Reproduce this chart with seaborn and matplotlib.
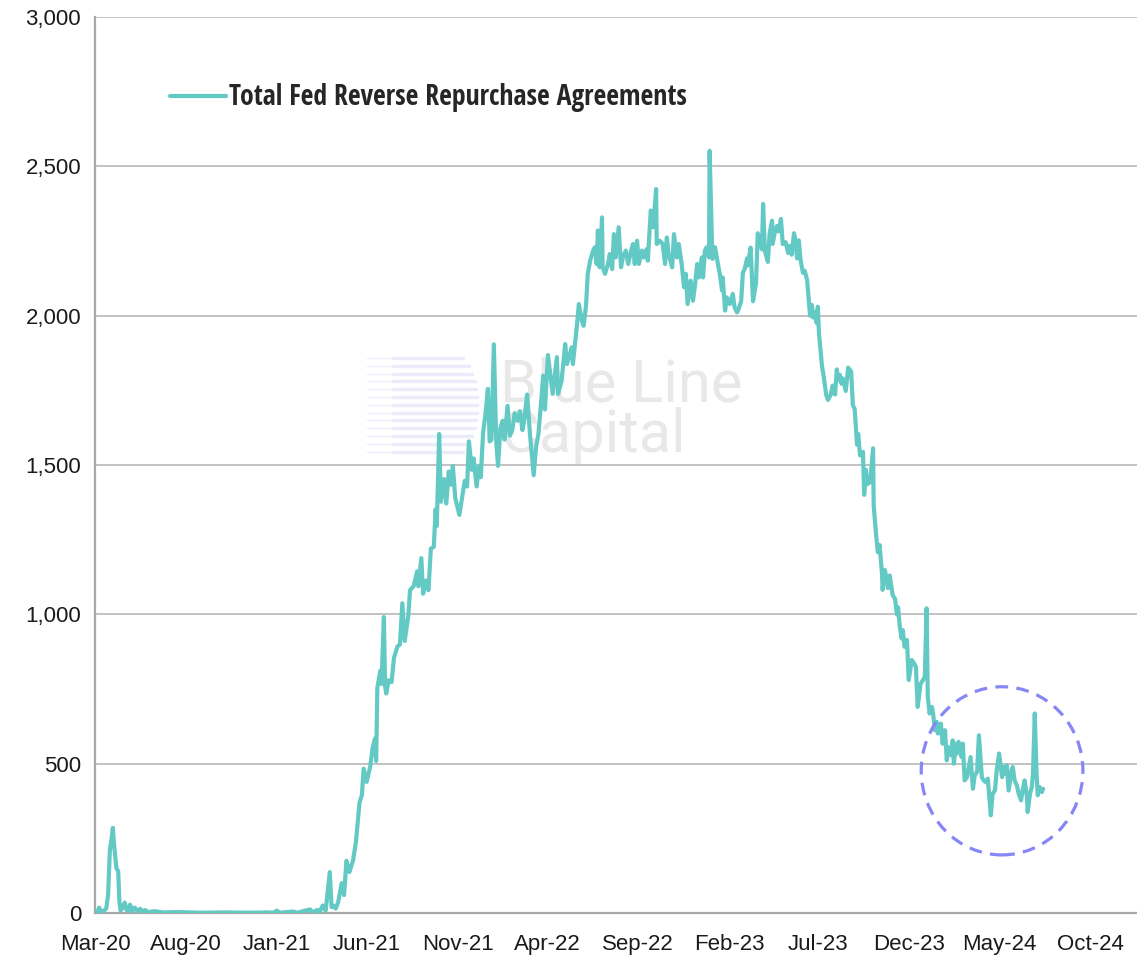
import matplotlib
matplotlib.use('Agg')
import matplotlib.pyplot as plt
import matplotlib.dates as mdates
from matplotlib.patches import Ellipse
from matplotlib.ticker import StrMethodFormatter
import seaborn as sns
import pandas as pd

# days counted from 1 Mar 2020, values in $bn
START = pd.Timestamp('2020-03-01')

days_2020 = [0, 4, 7, 10, 14, 19, 22, 25, 28, 30,
             32, 34, 36, 39, 41, 43, 47, 50, 53, 56,
             59, 63, 67, 72, 76, 81, 84, 90, 100, 115,
             140, 180, 220, 260, 290, 300, 306, 311, 333, 340,
             362, 366, 374, 378, 383, 388, 395, 398, 401, 405]
rrp_2020 = [2, 3, 18, 4, 6, 15, 60, 210, 250, 285,
            230, 190, 150, 140, 40, 8, 20, 35, 10, 8,
            28, 6, 18, 5, 14, 3, 10, 3, 6, 2,
            3, 1, 2, 1, 2, 1, 8, 1, 5, 1,
            12, 2, 10, 4, 25, 8, 137, 20, 24, 15]

days_2021 = [409, 415, 419, 423, 428, 434, 439, 445, 449, 452,
             457, 463, 467, 471, 473, 475, 480, 482, 486, 488,
             490, 494, 499, 503, 509, 513, 517, 521, 527, 530,
             536, 542, 544, 549, 552, 557, 561, 565, 570, 573,
             575, 579, 582, 587, 591, 595, 599, 602, 606, 613,
             618, 622, 626, 629, 634, 637, 642, 646, 649, 653,
             657, 661, 664, 667, 671, 675, 678, 682, 686, 689,
             694, 698, 702, 706, 711, 715, 719, 722, 727, 732,
             738, 742, 746, 750, 754, 757, 762]
rrp_2021 = [36, 100, 60, 175, 137, 175, 238, 370, 395, 483,
            439, 490, 553, 584, 509, 754, 811, 767, 991, 760,
            735, 779, 773, 855, 893, 899, 1037, 911, 993, 1081,
            1094, 1144, 1094, 1188, 1069, 1113, 1081, 1220, 1226, 1352,
            1296, 1604, 1377, 1453, 1371, 1478, 1434, 1497, 1390, 1333,
            1396, 1447, 1428, 1579, 1484, 1522, 1428, 1497, 1459, 1610,
            1673, 1755, 1579, 1585, 1904, 1579, 1497, 1623, 1648, 1585,
            1698, 1598, 1617, 1673, 1648, 1680, 1617, 1648, 1736, 1598,
            1466, 1560, 1604, 1698, 1799, 1686, 1868]

days_2022 = [770, 777, 779, 785, 791, 794, 799, 802, 804, 811,
             814, 819, 822, 826, 829, 833, 838, 841, 844, 846,
             849, 853, 854, 858, 863, 866, 870, 873, 876, 881,
             885, 888, 893, 897, 902, 905, 908, 912, 915, 920,
             923, 928, 930, 935, 939, 944, 945, 950, 955, 959,
             962, 965, 971, 974, 979, 982, 987, 991, 994, 997,
             1002, 1006, 1009, 1013, 1016, 1021, 1023, 1026, 1029, 1033,
             1034, 1038, 1039, 1043, 1046, 1051, 1055, 1056, 1060, 1063,
             1068, 1073, 1076, 1080]
rrp_2022 = [1738, 1861, 1738, 1782, 1905, 1838, 1872, 1894, 1838, 1972,
            2039, 1983, 1966, 2033, 2140, 2184, 2218, 2229, 2173, 2285,
            2162, 2329, 2162, 2140, 2173, 2206, 2156, 2273, 2195, 2296,
            2162, 2195, 2218, 2173, 2218, 2240, 2173, 2251, 2173, 2218,
            2195, 2223, 2184, 2352, 2296, 2424, 2240, 2251, 2240, 2173,
            2262, 2206, 2162, 2273, 2195, 2240, 2173, 2095, 2140, 2039,
            2117, 2050, 2095, 2173, 2128, 2195, 2128, 2218, 2229, 2195,
            2552, 2240, 2190, 2229, 2195, 2140, 2084, 2128, 2017, 2061,
            2039, 2073, 2028, 2011]

days_2023 = [1082, 1087, 1090, 1093, 1097, 1098, 1103, 1107, 1112, 1115,
             1119, 1122, 1124, 1127, 1132, 1135, 1139, 1140, 1144, 1147,
             1150, 1154, 1157, 1162, 1166, 1169, 1172, 1176, 1179, 1181,
             1184, 1187, 1191, 1194, 1198, 1199, 1203, 1206, 1208, 1211,
             1214, 1216, 1218, 1223, 1226, 1230, 1233, 1238, 1241, 1245,
             1248, 1250, 1253, 1256, 1258, 1263, 1267, 1272, 1275, 1278,
             1282, 1284, 1287, 1292, 1294, 1297, 1299, 1304, 1309, 1310,
             1314, 1317, 1320, 1324, 1325, 1329, 1334, 1337, 1342, 1346,
             1349, 1351, 1354]
rrp_2023 = [2018, 2048, 2144, 2156, 2192, 2168, 2228, 2048, 2108, 2276,
            2246, 2222, 2374, 2216, 2180, 2276, 2318, 2240, 2282, 2300,
            2282, 2324, 2240, 2246, 2210, 2234, 2204, 2276, 2246, 2192,
            2252, 2186, 2144, 2150, 2120, 2096, 2000, 2036, 1994, 2012,
            1976, 2030, 1940, 1832, 1796, 1736, 1718, 1736, 1766, 1736,
            1820, 1784, 1802, 1772, 1790, 1748, 1826, 1814, 1700, 1688,
            1568, 1604, 1532, 1544, 1400, 1484, 1436, 1442, 1556, 1364,
            1268, 1208, 1232, 1136, 1082, 1148, 1088, 1130, 1064, 1052,
            1000, 1024, 958]

days_2024 = [1357, 1359, 1362, 1366, 1369, 1374, 1378, 1381, 1384, 1389,
             1393, 1396, 1399, 1401, 1404, 1408, 1410, 1413, 1416, 1418,
             1423, 1426, 1430, 1433, 1435, 1440, 1443, 1445, 1448, 1450,
             1453, 1458, 1460, 1463, 1467, 1470, 1473, 1477, 1480, 1484,
             1487, 1492, 1495, 1499, 1502, 1507, 1510, 1514, 1517, 1521,
             1526, 1529, 1532, 1534, 1537, 1542, 1544, 1547, 1551, 1554,
             1558, 1561, 1564, 1568, 1569, 1573, 1576, 1578, 1581, 1584,
             1586, 1589, 1593, 1595]
rrp_2024 = [919, 947, 891, 914, 780, 847, 836, 824, 690, 768,
            780, 791, 1020, 724, 668, 690, 668, 612, 640, 601,
            634, 567, 612, 511, 556, 528, 578, 500, 567, 534,
            573, 522, 567, 444, 455, 489, 522, 416, 461, 472,
            595, 455, 444, 438, 450, 327, 399, 410, 478, 534,
            455, 489, 466, 494, 410, 478, 489, 444, 427, 399,
            377, 416, 444, 388, 338, 399, 422, 466, 668, 466,
            394, 422, 405, 416]

tick_dates = pd.date_range('2020-03-01', '2024-10-01', freq='5MS')
tick_labels = ['Mar-20', 'Aug-20', 'Jan-21', 'Jun-21', 'Nov-21', 'Apr-22',
               'Sep-22', 'Feb-23', 'Jul-23', 'Dec-23', 'May-24', 'Oct-24']
series_name = 'Total Fed Reverse Repurchase Agreements'

days = days_2020 + days_2021 + days_2022 + days_2023 + days_2024
rrp = rrp_2020 + rrp_2021 + rrp_2022 + rrp_2023 + rrp_2024
df = pd.DataFrame({'date': START + pd.to_timedelta(days, unit='D'), 'value': rrp})

LINE = '#63C9C4'
GREY = '#A8A8A8'

sns.set_style('white')
plt.rcParams['font.family'] = ['Liberation Sans', 'DejaVu Sans']

W, H = 1137, 963
fig = plt.figure(figsize=(W / 100, H / 100), dpi=100)
ax = fig.add_axes([95 / W, 1 - 913 / H, 1042 / W, 896 / H])

sns.lineplot(data=df, x='date', y='value', ax=ax, color=LINE, lw=3.0,
             estimator=None, sort=False, label=series_name, zorder=3)

ax.set_xlim(START, pd.Timestamp('2024-12-18'))
ax.set_ylim(0, 3000)
ax.set_yticks(range(0, 3001, 500))
ax.yaxis.set_major_formatter(StrMethodFormatter('{x:,.0f}'))
ax.set_xticks(tick_dates)
ax.set_xticklabels(tick_labels)
ax.set_xlabel('')
ax.set_ylabel('')

ax.yaxis.grid(True, color='#BDBDBD', lw=1.3)
ax.set_axisbelow(True)
for s in ['top', 'right']:
    ax.spines[s].set_visible(False)
for s in ['left', 'bottom']:
    ax.spines[s].set_color(GREY)
    ax.spines[s].set_linewidth(1.6)

ax.tick_params(axis='x', direction='in', length=9, width=1.5, color=GREY,
               pad=15, labelsize=16, labelcolor='#1a1a1a')
ax.tick_params(axis='y', length=0, pad=10, labelsize=16, labelcolor='#1a1a1a')

# watermark logo stripes + name
for i in range(13):
    yy = 358 + i * 7.8
    t = (i - 6) / 6.5
    right = 477 - 22 * (1 - (1 - t * t) ** 0.5)
    y_ax = (913 - yy) / 896
    ax.plot([(367 - 95) / 1042, (393 - 95) / 1042], [y_ax, y_ax], transform=ax.transAxes,
            color='#ECEEFC', lw=1, zorder=0.5)
    ax.plot([(393 - 95) / 1042, (right - 95) / 1042], [y_ax, y_ax], transform=ax.transAxes,
            color='#EAECFC', lw=2.4, solid_capstyle='round', zorder=0.5)
ax.text(0.3887, 0.621, 'Blue Line\nCapital', transform=ax.transAxes, family='Roboto',
        weight='normal', fontsize=43, color='#E8E8E8', va='top',
        ha='left', linespacing=0.86, zorder=0.6)

# dashed circle around the recent readings
cx = mdates.date2num(START + pd.Timedelta(days=1526))
ax.add_patch(Ellipse((cx, 476), width=272, height=563, fill=False,
                     ls=(0, (4, 2.6)), lw=2.3, ec='#8686F6', zorder=4))

leg = ax.legend(loc='center left', bbox_to_anchor=(0.072, 0.9096), frameon=False,
                handlelength=2.0, handletextpad=0.12, borderpad=0, borderaxespad=0,
                prop={'family': ['Open Sans Condensed', 'Liberation Sans'],
                      'weight': 'bold', 'size': 20})

fig.savefig('out.png', dpi=100)
plt.close(fig)
